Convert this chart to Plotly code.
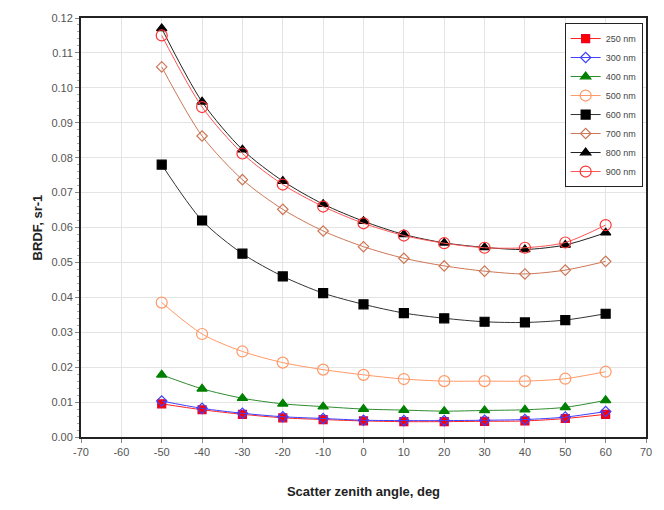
import plotly.graph_objects as go

angles = [-50, -40, -30, -20, -10, 0, 10, 20, 30, 40, 50, 60]

brdf_250 = [0.0095, 0.0078, 0.0065, 0.0055, 0.0050, 0.0046, 0.0044, 0.0044, 0.0045, 0.0046, 0.0053, 0.0065]
brdf_300 = [0.0103, 0.0082, 0.0068, 0.0058, 0.0053, 0.0048, 0.0047, 0.0047, 0.0048, 0.0050, 0.0057, 0.0073]
brdf_400 = [0.0178, 0.0138, 0.0111, 0.0095, 0.0087, 0.0080, 0.0077, 0.0074, 0.0076, 0.0078, 0.0085, 0.0105]
brdf_500 = [0.0385, 0.0295, 0.0245, 0.0213, 0.0193, 0.0178, 0.0166, 0.0160, 0.0160, 0.0160, 0.0167, 0.0187]
brdf_600 = [0.0780, 0.0620, 0.0525, 0.0460, 0.0412, 0.0380, 0.0355, 0.0340, 0.0330, 0.0328, 0.0335, 0.0353]
brdf_700 = [0.1060, 0.0862, 0.0737, 0.0652, 0.0590, 0.0545, 0.0512, 0.0490, 0.0475, 0.0467, 0.0478, 0.0503]
brdf_800 = [0.1170, 0.0960, 0.0823, 0.0733, 0.0667, 0.0618, 0.0580, 0.0556, 0.0543, 0.0537, 0.0550, 0.0585]
brdf_900 = [0.1150, 0.0945, 0.0812, 0.0723, 0.0660, 0.0612, 0.0577, 0.0555, 0.0542, 0.0542, 0.0557, 0.0607]

x_ticks = list(range(-70, 71, 10))
x_ticktext = [str(v) for v in x_ticks]
y_ticks = [i / 100 for i in range(0, 13)]
y_ticktext = ["%.2f" % v for v in y_ticks]

series = [
    ("250 nm", brdf_250, "#ff0000", "square", 8, "#e8002a", "#ff2020"),
    ("300 nm", brdf_300, "#4040ff", "diamond-open", 8, "#3030ff", "#4040ff"),
    ("400 nm", brdf_400, "#008000", "triangle-up", 9, "#008000", "#2e8b2e"),
    ("500 nm", brdf_500, "#ff9966", "circle-open", 11, "#ff9966", "#ff9966"),
    ("600 nm", brdf_600, "#000000", "square", 9, "#000000", "#333333"),
    ("700 nm", brdf_700, "#cc7755", "diamond-open", 8, "#cc7755", "#cc7755"),
    ("800 nm", brdf_800, "#000000", "triangle-up", 9, "#000000", "#222222"),
    ("900 nm", brdf_900, "#ff3333", "circle-open", 11, "#ff3333", "#ff5555"),
]

fig = go.Figure()
for name, vals, mcolor, sym, size, lcol, linecol in series:
    fig.add_trace(go.Scatter(
        x=angles, y=vals, name=name, mode="lines+markers",
        line=dict(color=linecol, width=1, shape="spline", smoothing=0.8),
        marker=dict(symbol=sym, size=size, color=mcolor,
                    line=dict(color=lcol, width=1.2)),
    ))

fig.update_layout(
    width=664, height=510,
    margin=dict(l=81, r=16, t=17, b=73),
    paper_bgcolor="white", plot_bgcolor="white",
    font=dict(family="Liberation Sans, Arial, sans-serif", size=11, color="#444444"),
    showlegend=True,
    legend=dict(
        x=0.856, y=0.988, xanchor="left", yanchor="top",
        bgcolor="white", bordercolor="#222222", borderwidth=1,
        font=dict(size=9, color="#444444"),
        tracegroupgap=0, itemwidth=30,
    ),
)
fig.update_xaxes(
    range=[-70, 70], tickmode="array", tickvals=x_ticks, ticktext=x_ticktext,
    tickfont=dict(size=11, color="#555555"),
    showgrid=True, gridcolor="#e4e4e4", gridwidth=1,
    showline=True, linecolor="#222222", linewidth=2, mirror=True,
    ticks="outside", ticklen=4, tickcolor="#888888",
    zeroline=False,
    title=dict(text="<b>Scatter zenith angle, deg</b>", font=dict(size=13, color="#222222"), standoff=30),
)
fig.update_yaxes(
    range=[0, 0.12], tickmode="array", tickvals=y_ticks, ticktext=y_ticktext,
    tickfont=dict(size=11, color="#555555"),
    showgrid=True, gridcolor="#e4e4e4", gridwidth=1,
    showline=True, linecolor="#222222", linewidth=2, mirror=True,
    ticks="outside", ticklen=4, tickcolor="#888888",
    minor=dict(ticks="outside", ticklen=2, dtick=0.002, tickcolor="#aaaaaa", showgrid=False),
    zeroline=False,
    title=dict(text="<b>BRDF, sr-1</b>", font=dict(size=13, color="#222222"), standoff=6),
)

fig.write_html("out.html")
